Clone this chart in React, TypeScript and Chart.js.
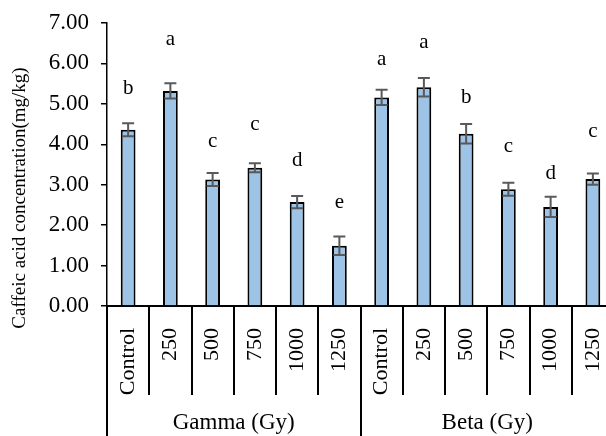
import React, { useEffect, useRef } from "react";
import { Chart, registerables } from "chart.js";

Chart.register(...registerables);

const categories = ["Control", "250", "500", "750", "1000", "1250", "Control", "250", "500", "750", "1000", "1250"];
const groups = ["Gamma (Gy)", "Beta (Gy)"];
const groupSizes = [6, 6];
const values = [4.36, 5.32, 3.13, 3.42, 2.57, 1.49, 5.16, 5.41, 4.26, 2.89, 2.45, 3.14];
const errors = [0.16, 0.19, 0.16, 0.11, 0.15, 0.23, 0.19, 0.23, 0.24, 0.16, 0.25, 0.14];
const letters = ["b", "a", "c", "c", "d", "e", "a", "a", "b", "c", "d", "c"];
const letterY = [5.37, 6.58, 4.07, 4.48, 3.61, 2.55, 6.09, 6.51, 5.15, 3.94, 3.29, 4.31];
const yMin = 0;
const yMax = 7;
const yStep = 1;
const yTitle = "Caffeic acid concentration(mg/kg)";

const FONT = "'Liberation Serif', 'Times New Roman', serif";

const overlay = {
  id: "overlay",
  afterDatasetsDraw(chart: any) {
    const ctx = chart.ctx;
    const xs = chart.scales.x;
    const ys = chart.scales.y;
    ctx.save();
    ctx.strokeStyle = "#595959";
    ctx.lineWidth = 2;
    for (let i = 0; i < values.length; i++) {
      const x = xs.getPixelForValue(i);
      const yt = ys.getPixelForValue(values[i] + errors[i]);
      const yb = ys.getPixelForValue(values[i] - errors[i]);
      ctx.beginPath();
      ctx.moveTo(x, yt);
      ctx.lineTo(x, yb);
      ctx.moveTo(x - 6, yt);
      ctx.lineTo(x + 6, yt);
      ctx.moveTo(x - 6, yb);
      ctx.lineTo(x + 6, yb);
      ctx.stroke();
    }
    ctx.fillStyle = "#000";
    ctx.font = `21px ${FONT}`;
    ctx.textAlign = "center";
    ctx.textBaseline = "middle";
    for (let i = 0; i < letters.length; i++) {
      ctx.fillText(letters[i], xs.getPixelForValue(i), ys.getPixelForValue(letterY[i]));
    }
    ctx.restore();
  },
  afterDraw(chart: any) {
    const ctx = chart.ctx;
    const xs = chart.scales.x;
    const area = chart.chartArea;
    const half = (xs.getPixelForValue(1) - xs.getPixelForValue(0)) / 2;
    ctx.save();
    ctx.strokeStyle = "#000";
    ctx.lineWidth = 2;
    const groupStarts = new Set<number>();
    let acc = 0;
    groupStarts.add(0);
    for (const s of groupSizes) {
      acc += s;
      groupStarts.add(acc);
    }
    for (let i = 0; i < categories.length; i++) {
      const x = Math.round(xs.getPixelForValue(i) - half);
      const yEnd = groupStarts.has(i) ? chart.height : area.bottom + 89;
      ctx.beginPath();
      ctx.moveTo(x, area.bottom);
      ctx.lineTo(x, yEnd);
      ctx.stroke();
    }
    ctx.fillStyle = "#000";
    ctx.font = `23px ${FONT}`;
    ctx.textAlign = "center";
    ctx.textBaseline = "middle";
    let start = 0;
    groups.forEach((g, gi) => {
      const end = start + groupSizes[gi] - 1;
      const cx = (xs.getPixelForValue(start) + xs.getPixelForValue(end)) / 2;
      ctx.fillText(g, cx, area.bottom + 117);
      start += groupSizes[gi];
    });
    ctx.save();
    ctx.translate(20, 198);
    ctx.rotate(-Math.PI / 2);
    ctx.font = `19px ${FONT}`;
    ctx.fillText(yTitle, 0, 0);
    ctx.restore();
    ctx.restore();
  },
};

export default function App() {
  const ref = useRef<HTMLCanvasElement | null>(null);
  useEffect(() => {
    if (!ref.current) return;
    Chart.defaults.font.family = FONT;
    const chart = new Chart(ref.current, {
      type: "bar",
      data: {
        labels: categories,
        datasets: [
          {
            data: values,
            backgroundColor: "#9DC3E6",
            borderColor: "#000",
            borderWidth: 2,
            barPercentage: 0.35,
            categoryPercentage: 1,
          },
        ],
      },
      options: {
        responsive: false,
        animation: false,
        layout: { padding: { left: 0, top: 23, right: 0, bottom: 0 } },
        plugins: { legend: { display: false }, tooltip: { enabled: false } },
        scales: {
          x: {
            grid: { display: false },
            border: { color: "#000", width: 2 },
            ticks: {
              color: "#000",
              font: { size: 22, family: FONT },
              maxRotation: 90,
              minRotation: 90,
              padding: 14,
              autoSkip: false,
            },
            afterFit(scale: any) {
              scale.height = 130;
              scale.paddingLeft = 0;
              scale.paddingRight = 0;
            },
          },
          y: {
            min: yMin,
            max: yMax,
            grid: { drawOnChartArea: false, drawTicks: true, tickLength: 6, color: "#000", lineWidth: 1.5 },
            border: { color: "#000", width: 1.5 },
            ticks: {
              stepSize: yStep,
              color: "#000",
              font: { size: 23, family: FONT },
              padding: 12,
              callback: (v: any) => Number(v).toFixed(2),
            },
            afterFit(scale: any) {
              scale.width = 107;
              scale.paddingTop = 0;
              scale.paddingBottom = 0;
            },
          },
        },
      },
      plugins: [overlay],
    });
    return () => chart.destroy();
  }, []);
  return (
    <div style={{ position: "fixed", left: 0, top: 0, width: 606, height: 436, overflow: "hidden", background: "#fff" }}>
      <canvas ref={ref} width={614} height={436} style={{ display: "block" }} />
    </div>
  );
}
